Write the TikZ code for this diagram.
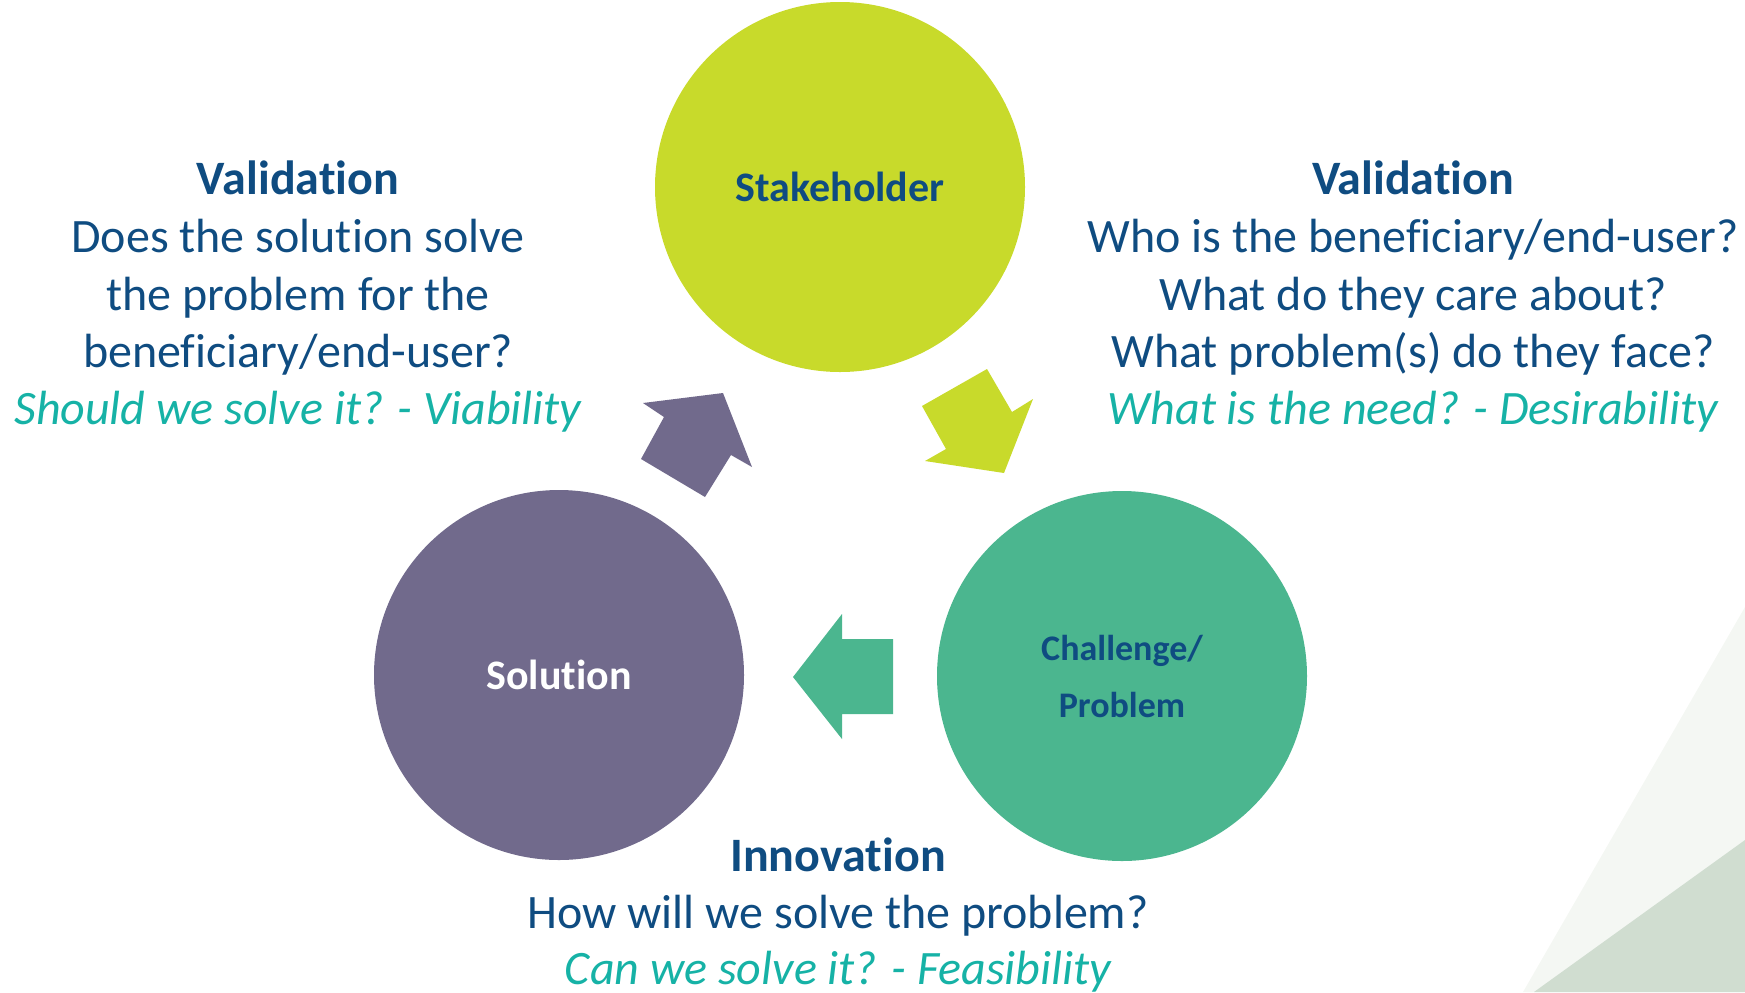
\documentclass[tikz,border=0pt]{standalone}
\usepackage{fontspec}
\setmainfont{Carlito}[Ligatures=NoCommon]
\definecolor{limegreen}{RGB}{200,218,43}
\definecolor{dustypurple}{RGB}{113,106,140}
\definecolor{seagreen}{RGB}{75,182,143}
\definecolor{navytext}{RGB}{15,76,129}
\definecolor{tealtext}{RGB}{22,178,166}
\definecolor{bglight}{RGB}{244,247,243}
\definecolor{bgdark}{RGB}{208,221,208}
\tikzset{
  bubble/.style={circle, minimum size=185pt, inner sep=0pt, text=navytext,
    font=\fontsize{21}{25}\selectfont\bfseries},
  line/.style={anchor=base, inner sep=0pt, text=navytext,
    font=\fontsize{24}{29}\selectfont},
  headline/.style={line, font=\fontsize{24}{29}\selectfont\bfseries},
  askline/.style={line, text=tealtext, font=\fontsize{24}{29}\selectfont\itshape}
}

\begin{document}
\begin{tikzpicture}[x=0.5pt,y=-0.5pt]
\useasboundingbox (0,0) rectangle (1745,992);

% background corner
\fill[bglight] (1745,607) -- (1523,992) -- (1745,992) -- cycle;
\fill[bgdark] (1745,840) -- (1534,992) -- (1745,992) -- cycle;

% circles
\node[bubble, fill=limegreen] (stake) at (840,187) {Stakeholder};
\node[bubble, fill=dustypurple, text=white] (sol) at (559,675) {Solution};
\node[bubble, fill=seagreen, align=center,
  font=\fontsize{18}{28.5}\selectfont\bfseries] (chal) at (1122,676) {Challenge/\\Problem};

% block arrows
\fill[limegreen] (922,406) -- (987,369) -- (1012,412) -- (1033,399) -- (1004,473)
  -- (925,461) -- (946,449) -- cycle; % stake -> chal
\fill[seagreen] (793,677) -- (842,614) -- (842,639) -- (893,639) -- (893,714)
  -- (842,714) -- (842,739) -- cycle; % chal -> sol
\fill[dustypurple] (723,393) -- (752,467) -- (731,455) -- (705,497) -- (641,459)
  -- (664,417) -- (643,403) -- cycle; % sol -> stake

% left text
\node[headline] (lhead) at (298,194) {Validation};
\node[line] (lone) at (298,252) {Does the solution solve};
\node[line] (ltwo) at (298,310) {the problem for the};
\node[line] (lthree) at (298,367) {beneficiary/end-user?};
\node[askline] (lask) at (298,424) {Should we solve it? - Viability};

% right text
\node[headline] (rhead) at (1413,194) {Validation};
\node[line] (rone) at (1413,252) {Who is the beneficiary/end-user?};
\node[line] (rtwo) at (1413,310) {What do they care about?};
\node[line] (rthree) at (1413,367) {What problem(s) do they face?};
\node[askline] (rask) at (1413,424) {What is the need? - Desirability};

% bottom text
\node[headline] (bhead) at (838,871) {Innovation};
\node[line] (bone) at (838,928) {How will we solve the problem?};
\node[askline] (bask) at (838,984) {Can we solve it? - Feasibility};
\end{tikzpicture}
\end{document}
